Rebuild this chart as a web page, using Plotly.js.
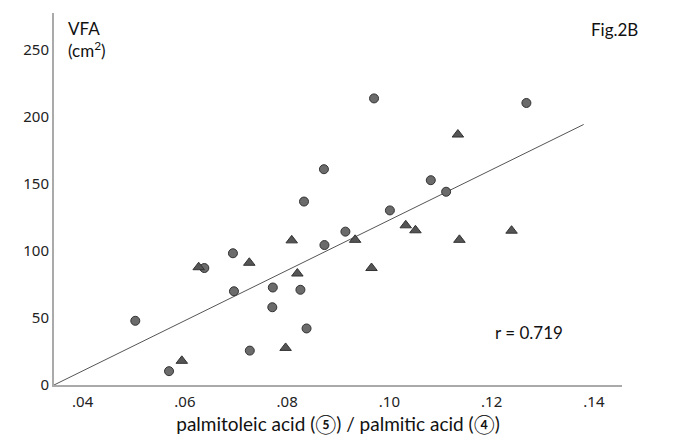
<!DOCTYPE html>
<html>
<head>
<meta charset="utf-8">
<script src="https://cdn.plot.ly/plotly-3.0.1.min.js"></script>
<style>html,body{margin:0;padding:0;background:#fff;}#chart{width:675px;height:439px;}</style>
</head>
<body>
<div id="chart"></div>
<script>
// Circle group
const circleX = [0.0503, 0.0569, 0.0638, 0.0694, 0.0696, 0.0727, 0.0772, 0.0771, 0.0826, 0.0838, 0.0833, 0.0872, 0.0873, 0.0914, 0.0970, 0.1001, 0.1081, 0.1111, 0.1268];
const circleY = [47.8, 10.3, 87.1, 98.1, 69.8, 25.6, 72.6, 57.9, 70.9, 42.1, 136.6, 160.7, 104.2, 114.2, 213.4, 130.0, 152.5, 143.9, 210.0];
// Triangle group
const triX = [0.0594, 0.0627, 0.0726, 0.0797, 0.0809, 0.0820, 0.0933, 0.0965, 0.1032, 0.1051, 0.1134, 0.1137, 0.1239];
const triY = [18.0, 87.7, 91.0, 27.6, 107.7, 83.0, 108.1, 87.1, 118.9, 115.2, 186.5, 108.1, 114.9];
// Regression line end points
const lineX = [0.0344, 0.1380];
const lineY = [0, 194];
// Ticks
const xTickVals = [0.04, 0.06, 0.08, 0.10, 0.12, 0.14];
const xTickText = ['.04', '.06', '.08', '.10', '.12', '.14'];
const yTickVals = [0, 50, 100, 150, 200, 250];
const yTickText = ['0', '50', '100', '150', '200', '250'];

const tickFont = {family: 'Noto Sans, Open Sans, sans-serif', size: 15, color: '#222'};
const textFont = {family: 'Lato, Noto Sans CJK JP, sans-serif', size: 17, color: '#111'};

const traces = [
  {x: lineX, y: lineY, mode: 'lines', line: {color: '#555', width: 1}, hoverinfo: 'skip', showlegend: false},
  {x: circleX, y: circleY, mode: 'markers', marker: {symbol: 'circle', size: 9, color: '#6b6b6b', line: {color: '#333', width: 1}}, showlegend: false},
  {x: triX, y: triY, mode: 'markers', marker: {symbol: 'triangle-up', size: 10, color: '#555', line: {color: '#333', width: 1}}, showlegend: false}
];

const layout = {
  width: 675, height: 439,
  margin: {l: 54, r: 53, t: 13, b: 54},
  paper_bgcolor: '#fff', plot_bgcolor: '#fff',
  showlegend: false,
  xaxis: {
    range: [0.0344, 0.1455], tickvals: xTickVals, ticktext: xTickText,
    showgrid: false, zeroline: false, showline: true, linecolor: '#aaa', linewidth: 2,
    ticks: '', tickfont: tickFont, ticklabelstandoff: 2,
    title: {text: 'palmitoleic acid (\u2464) / palmitic acid (\u2463)', font: {family: 'Lato, Noto Sans CJK JP, sans-serif', size: 19, color: '#111'}, standoff: 8}
  },
  yaxis: {
    range: [0, 277], tickvals: yTickVals, ticktext: yTickText,
    showgrid: false, zeroline: false, showline: true, linecolor: '#aaa', linewidth: 2,
    ticks: '', tickfont: tickFont
  },
  annotations: [
    {xref: 'paper', yref: 'paper', x: 0.022, y: 0.93, xanchor: 'left', yanchor: 'middle', align: 'left', text: 'VFA<br>(cm<sup>2</sup>)', showarrow: false, font: textFont},
    {xref: 'paper', yref: 'paper', x: 1.032, y: 0.955, xanchor: 'right', yanchor: 'middle', text: 'Fig.2B', showarrow: false, font: textFont},
    {xref: 'paper', yref: 'paper', x: 0.773, y: 0.14, xanchor: 'left', yanchor: 'middle', text: 'r = 0.719', showarrow: false, font: textFont}
  ]
};

Plotly.newPlot('chart', traces, layout, {staticPlot: true, displayModeBar: false});
</script>
</body>
</html>
